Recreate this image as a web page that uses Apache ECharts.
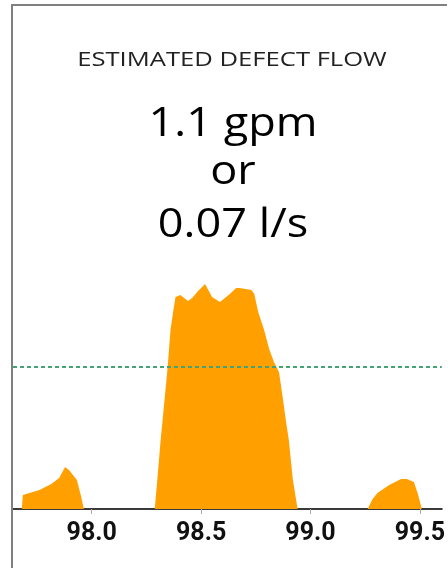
<!DOCTYPE html>
<html><head><meta charset="utf-8">
<script src="https://cdn.jsdelivr.net/npm/echarts@6/dist/echarts.min.js"></script>
<style>html,body{margin:0;padding:0;background:#fff;overflow:hidden}#c{width:448px;height:568px}</style>
</head><body><div id="c"></div>
<script>
// Position along pipe (x) and estimated flow signal (arbitrary units)
var positions = [97.64, 97.680, 97.685, 97.70, 97.761, 97.815, 97.851, 97.878, 97.896, 97.932, 97.952, 97.964,
  98.288, 98.300, 98.315, 98.324, 98.347, 98.360, 98.374, 98.383, 98.405, 98.440, 98.459, 98.486, 98.518, 98.550, 98.586, 98.631, 98.660, 98.676, 98.730, 98.743, 98.761, 98.788, 98.811, 98.833, 98.856, 98.874, 98.887, 98.901, 98.919, 98.941,
  99.261, 99.284, 99.306, 99.360, 99.414, 99.440, 99.473, 99.491, 99.509, 99.60];
var signal = [0, 0, 14, 15, 19, 25, 31, 42, 39, 29, 12, 0,
  0, 30, 69, 89, 142, 179, 200, 212, 214, 208, 211, 218, 225, 212, 207, 215, 221, 221, 219, 215, 197, 179, 160, 147, 137, 110, 89, 69, 30, 0,
  0, 10, 16, 24, 30, 30, 27, 15, 0, 0];
var tickValues = [98.0, 98.5, 99.0, 99.5];
var xRange = [97.64, 99.6];
var thresholdLevel = 142;
var titleText = 'ESTIMATED DEFECT FLOW';
var flowLines = ['1.1 gpm', 'or', '0.07 l/s'];

var data = positions.map(function (p, i) { return [p, signal[i]]; });
var thresholdData = xRange.map(function (x) { return [x, thresholdLevel]; });

var chart = echarts.init(document.getElementById('c'), null, {renderer: 'canvas'});
chart.setOption({
  animation: false,
  grid: {left: 13, right: 0, top: 5, bottom: 59, show: false},
  xAxis: {
    type: 'value', min: xRange[0], max: xRange[1],
    axisLine: {show: true, onZero: false, lineStyle: {color: '#3a3a3a', width: 2}},
    axisTick: {show: true, customValues: tickValues, length: 5, lineStyle: {color: '#aaa', width: 1}},
    axisLabel: {customValues: tickValues, formatter: function (v) { return v.toFixed(1); },
      fontFamily: 'Roboto', fontWeight: 'bold', fontSize: 25, color: '#111', margin: 12},
    splitLine: {show: false}
  },
  yAxis: {type: 'value', min: 0, max: 504, show: false},
  series: [{
    type: 'line', data: data, symbol: 'none', smooth: false,
    lineStyle: {width: 0, color: '#FFA000'},
    areaStyle: {color: '#FFA000', opacity: 1},
    z: 3
  }, {
    type: 'line', data: thresholdData, symbol: 'none', silent: true,
    lineStyle: {color: '#45a277', type: [4, 3], width: 2},
    z: 6
  }],
  graphic: [
    {type: 'polyline', z: 10, shape: {points: [[12, 568], [12, 5], [447, 5]]}, style: {stroke: '#808080', lineWidth: 2, fill: null}},
    {type: 'text', z: 10, x: 232, y: 60, scaleX: 1.28, style: {text: titleText, fontFamily: 'Open Sans', fontSize: 20, fill: '#222', align: 'center', verticalAlign: 'middle'}},
    {type: 'text', z: 10, x: 233, y: 124, scaleX: 1.1, style: {text: flowLines[0], fontFamily: 'Open Sans', fontSize: 41, fill: '#000', align: 'center', verticalAlign: 'middle'}},
    {type: 'text', z: 10, x: 233, y: 172, scaleX: 1.1, style: {text: flowLines[1], fontFamily: 'Open Sans', fontSize: 41, fill: '#000', align: 'center', verticalAlign: 'middle'}},
    {type: 'text', z: 10, x: 233, y: 225, scaleX: 1.1, style: {text: flowLines[2], fontFamily: 'Open Sans', fontSize: 41, fill: '#000', align: 'center', verticalAlign: 'middle'}}
  ]
});
</script></body></html>
